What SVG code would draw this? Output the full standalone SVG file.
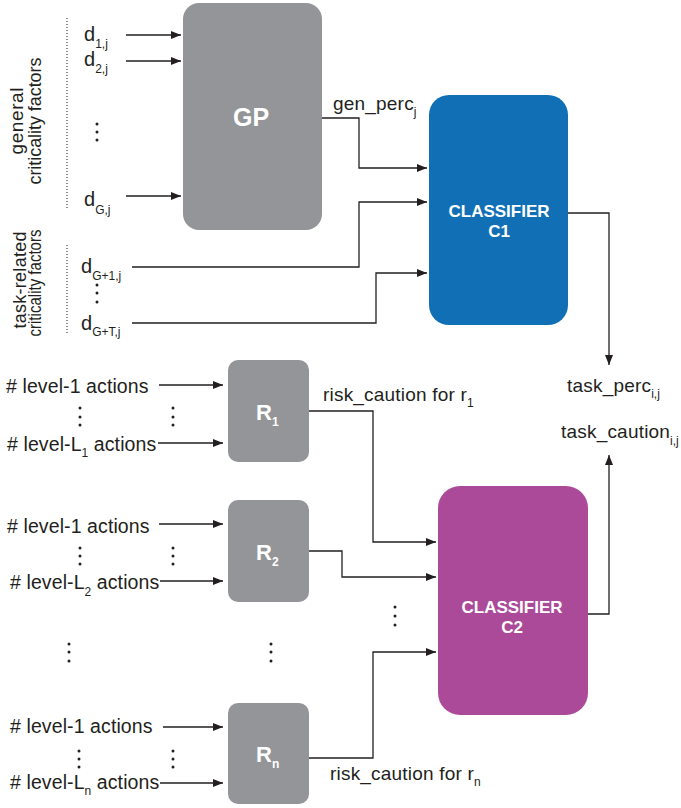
<svg xmlns="http://www.w3.org/2000/svg" width="681" height="808" viewBox="0 0 681 808">
<style>
text{font-family:"Liberation Sans",Arial,Helvetica,sans-serif;fill:#231f20}
.l{font-size:20px}
.lv{font-size:19.5px;letter-spacing:0.1px}
.lb{font-size:19px;letter-spacing:0.2px}
.s{font-size:12px;letter-spacing:0}
.rot{font-size:18px}
.w{fill:#fff;font-weight:bold}
.gray{fill:#939598}
.conn path{fill:none;stroke:#231f20;stroke-width:1.3}
.dots circle{fill:#231f20}
.vd{stroke:#231f20;stroke-width:1;stroke-dasharray:1 2}
</style>
<defs>
<marker id="ah" markerUnits="userSpaceOnUse" markerWidth="11" markerHeight="9" refX="10" refY="4" orient="auto">
<path d="M0,0 L10,4 L0,8 z" fill="#231f20"/>
</marker>
</defs>

<g id="side-labels">
<line class="vd" x1="67" y1="18" x2="67" y2="210"/>
<line class="vd" x1="67" y1="245" x2="67" y2="335"/>
<text class="rot" style="font-size:19px" transform="translate(23,121) rotate(-90)" text-anchor="middle" textLength="67" lengthAdjust="spacing">general</text>
<text class="rot" transform="translate(41,121) rotate(-90)" text-anchor="middle" textLength="127" lengthAdjust="spacing">criticality factors</text>
<text class="rot" transform="translate(25.5,280) rotate(-90)" text-anchor="middle" textLength="97" lengthAdjust="spacing">task-related</text>
<text class="rot" style="font-size:17.5px" transform="translate(41,283) rotate(-90)" text-anchor="middle" textLength="107" lengthAdjust="spacingAndGlyphs">criticality factors</text>
</g>

<g id="inputs-d">
<text class="l" x="84" y="41">d<tspan class="s" dy="7">1,j</tspan></text>
<text class="l" x="84" y="66">d<tspan class="s" dy="7">2,j</tspan></text>
<text class="l" x="84" y="206">d<tspan class="s" dy="8">G,j</tspan></text>
<text class="l" x="81" y="273">d<tspan class="s" dy="7">G+1,j</tspan></text>
<text class="l" x="81" y="330">d<tspan class="s" dy="6">G+T,j</tspan></text>
<g class="dots">
<circle cx="97" cy="124" r="1.5"/><circle cx="97" cy="132" r="1.5"/><circle cx="97" cy="140" r="1.5"/>
<circle cx="97" cy="285" r="1.5"/><circle cx="97" cy="293" r="1.5"/><circle cx="97" cy="302" r="1.5"/>
</g>
</g>

<g id="GP">
<rect class="gray" x="183" y="3" width="139" height="227" rx="16"/>
<text class="w" x="251" y="126" font-size="25" text-anchor="middle">GP</text>
</g>

<g id="C1">
<rect x="429" y="95" width="139" height="230" rx="20" fill="#1170b5"/>
<text class="w" x="499" y="217" font-size="17" text-anchor="middle">CLASSIFIER</text>
<text class="w" x="499" y="237" font-size="17" text-anchor="middle">C1</text>
</g>

<g id="C2">
<rect x="438" y="486" width="150" height="229" rx="22" fill="#ac4a9a"/>
<text class="w" x="512" y="613" font-size="17" text-anchor="middle">CLASSIFIER</text>
<text class="w" x="512" y="633" font-size="17" text-anchor="middle">C2</text>
</g>

<g id="R1">
<rect class="gray" x="228" y="360" width="81" height="102" rx="10"/>
<text class="w" x="256" y="420" font-size="22">R<tspan font-size="12" dy="6">1</tspan></text>
</g>
<g id="R2">
<rect class="gray" x="228" y="500" width="81" height="102" rx="10"/>
<text class="w" x="256" y="560" font-size="22">R<tspan font-size="12" dy="6">2</tspan></text>
</g>
<g id="Rn">
<rect class="gray" x="228" y="703" width="81" height="101" rx="10"/>
<text class="w" x="256" y="762" font-size="22">R<tspan font-size="12" dy="6">n</tspan></text>
</g>

<g id="level-labels">
<text class="lv" x="6" y="393"># level-1 actions</text>
<text class="lv" x="7" y="451"># level-L<tspan class="s" dy="6">1</tspan><tspan dy="-6"> actions</tspan></text>
<text class="lv" x="7" y="533"># level-1 actions</text>
<text class="lv" x="10" y="589"># level-L<tspan class="s" dy="7">2</tspan><tspan dy="-7"> actions</tspan></text>
<text class="lv" x="10" y="733"># level-1 actions</text>
<text class="lv" x="10" y="789"># level-L<tspan class="s" dy="6">n</tspan><tspan dy="-6"> actions</tspan></text>
<g class="dots">
<circle cx="80" cy="408" r="1.5"/><circle cx="80" cy="417" r="1.5"/><circle cx="80" cy="425" r="1.5"/>
<circle cx="173" cy="408" r="1.5"/><circle cx="173" cy="417" r="1.5"/><circle cx="173" cy="425" r="1.5"/>
<circle cx="80" cy="548" r="1.5"/><circle cx="80" cy="556" r="1.5"/><circle cx="80" cy="564" r="1.5"/>
<circle cx="173" cy="548" r="1.5"/><circle cx="173" cy="556" r="1.5"/><circle cx="173" cy="564" r="1.5"/>
<circle cx="69" cy="644" r="1.5"/><circle cx="69" cy="652" r="1.5"/><circle cx="69" cy="661" r="1.5"/>
<circle cx="271" cy="644" r="1.5"/><circle cx="271" cy="652" r="1.5"/><circle cx="271" cy="661" r="1.5"/>
<circle cx="79" cy="751" r="1.5"/><circle cx="79" cy="759" r="1.5"/><circle cx="79" cy="767" r="1.5"/>
<circle cx="173" cy="751" r="1.5"/><circle cx="173" cy="759" r="1.5"/><circle cx="173" cy="767" r="1.5"/>
<circle cx="395" cy="607" r="1.5"/><circle cx="395" cy="616" r="1.5"/><circle cx="395" cy="625" r="1.5"/>
</g>
</g>

<g id="edge-labels">
<text class="lb" x="333" y="110">gen_perc<tspan class="s" dy="6">j</tspan></text>
<text class="lb" x="323" y="401">risk_caution for r<tspan class="s" dy="6">1</tspan></text>
<text class="lb" x="330" y="780">risk_caution for r<tspan class="s" dy="6">n</tspan></text>
<text class="lb" x="567" y="392">task_perc<tspan class="s" dy="6">i,j</tspan></text>
<text class="lb" x="561" y="438">task_caution<tspan class="s" dy="7">i,j</tspan></text>
</g>

<g class="conn" id="connectors">
<path d="M126,35 H181" marker-end="url(#ah)"/>
<path d="M126,61 H181" marker-end="url(#ah)"/>
<path d="M126,196 H181" marker-end="url(#ah)"/>
<path d="M322,118 H359 V168 H427" marker-end="url(#ah)"/>
<path d="M132,267 H359 V202 H427" marker-end="url(#ah)"/>
<path d="M132,323 H376 V273 H427" marker-end="url(#ah)"/>
<path d="M568,213 H609 V365" marker-end="url(#ah)"/>
<path d="M588,614 H609 V455" marker-end="url(#ah)"/>
<path d="M159,385 H223" marker-end="url(#ah)"/>
<path d="M158,443 H223" marker-end="url(#ah)"/>
<path d="M159,524 H223" marker-end="url(#ah)"/>
<path d="M160,581 H223" marker-end="url(#ah)"/>
<path d="M163,727 H223" marker-end="url(#ah)"/>
<path d="M160,783 H223" marker-end="url(#ah)"/>
<path d="M309,411 H373 V542 H436" marker-end="url(#ah)"/>
<path d="M309,551 H342 V577 H436" marker-end="url(#ah)"/>
<path d="M309,758 H373 V652 H436" marker-end="url(#ah)"/>
</g>
</svg>
